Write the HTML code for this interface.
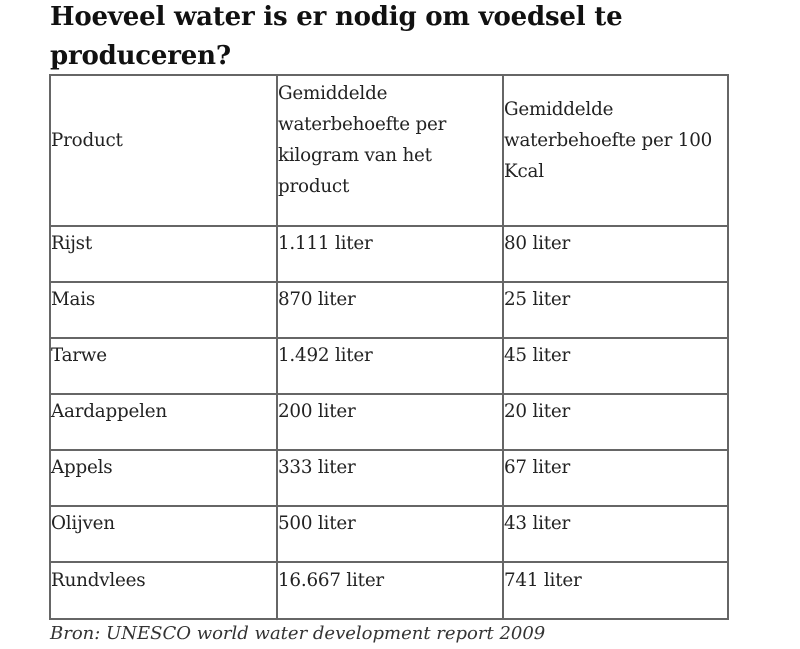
<!DOCTYPE html>
<html><head><style>
body{margin:0;width:800px;height:649px;background:#fff;position:relative;overflow:hidden;font-family:"DejaVu Serif","Liberation Serif",serif;color:#222}
.t{position:absolute;left:50px;font-size:26px;font-weight:bold;line-height:36px;white-space:nowrap;letter-spacing:-0.2px;color:#111}
.h{position:absolute;background:#666}
.c{position:absolute;font-size:18.3px;line-height:31px;white-space:nowrap;letter-spacing:-0.2px}
.s{position:absolute;left:50px;top:623px;font-size:18px;font-style:italic;color:#333;white-space:nowrap}
</style></head><body>
<div class="t" style="top:-1px">Hoeveel water is er nodig om voedsel te</div>
<div class="t" style="top:38px">produceren?</div>
<div class="h" style="left:49px;width:680px;top:74px;height:2px"></div>
<div class="h" style="left:49px;width:680px;top:225px;height:2px"></div>
<div class="h" style="left:49px;width:680px;top:281px;height:2px"></div>
<div class="h" style="left:49px;width:680px;top:337px;height:2px"></div>
<div class="h" style="left:49px;width:680px;top:393px;height:2px"></div>
<div class="h" style="left:49px;width:680px;top:449px;height:2px"></div>
<div class="h" style="left:49px;width:680px;top:505px;height:2px"></div>
<div class="h" style="left:49px;width:680px;top:561px;height:2px"></div>
<div class="h" style="left:49px;width:680px;top:618px;height:2px"></div>
<div class="h" style="left:49px;width:2px;top:74px;height:546px"></div>
<div class="h" style="left:276px;width:2px;top:74px;height:546px"></div>
<div class="h" style="left:502px;width:2px;top:74px;height:546px"></div>
<div class="h" style="left:727px;width:2px;top:74px;height:546px"></div>
<div class="c" style="left:51px;top:125px">Product</div>
<div class="c" style="left:278px;top:78px">Gemiddelde<br>waterbehoefte per<br>kilogram van het<br>product</div>
<div class="c" style="left:504px;top:94px">Gemiddelde<br>waterbehoefte per 100<br>Kcal</div>
<div class="c" style="left:51px;top:228px">Rijst</div><div class="c" style="left:278px;top:228px">1.111 liter</div><div class="c" style="left:504px;top:228px">80 liter</div>
<div class="c" style="left:51px;top:284px">Mais</div><div class="c" style="left:278px;top:284px">870 liter</div><div class="c" style="left:504px;top:284px">25 liter</div>
<div class="c" style="left:51px;top:340px">Tarwe</div><div class="c" style="left:278px;top:340px">1.492 liter</div><div class="c" style="left:504px;top:340px">45 liter</div>
<div class="c" style="left:51px;top:396px">Aardappelen</div><div class="c" style="left:278px;top:396px">200 liter</div><div class="c" style="left:504px;top:396px">20 liter</div>
<div class="c" style="left:51px;top:452px">Appels</div><div class="c" style="left:278px;top:452px">333 liter</div><div class="c" style="left:504px;top:452px">67 liter</div>
<div class="c" style="left:51px;top:508px">Olijven</div><div class="c" style="left:278px;top:508px">500 liter</div><div class="c" style="left:504px;top:508px">43 liter</div>
<div class="c" style="left:51px;top:565px">Rundvlees</div><div class="c" style="left:278px;top:565px">16.667 liter</div><div class="c" style="left:504px;top:565px">741 liter</div>
<div class="s">Bron: UNESCO world water development report 2009</div>
</body></html>
